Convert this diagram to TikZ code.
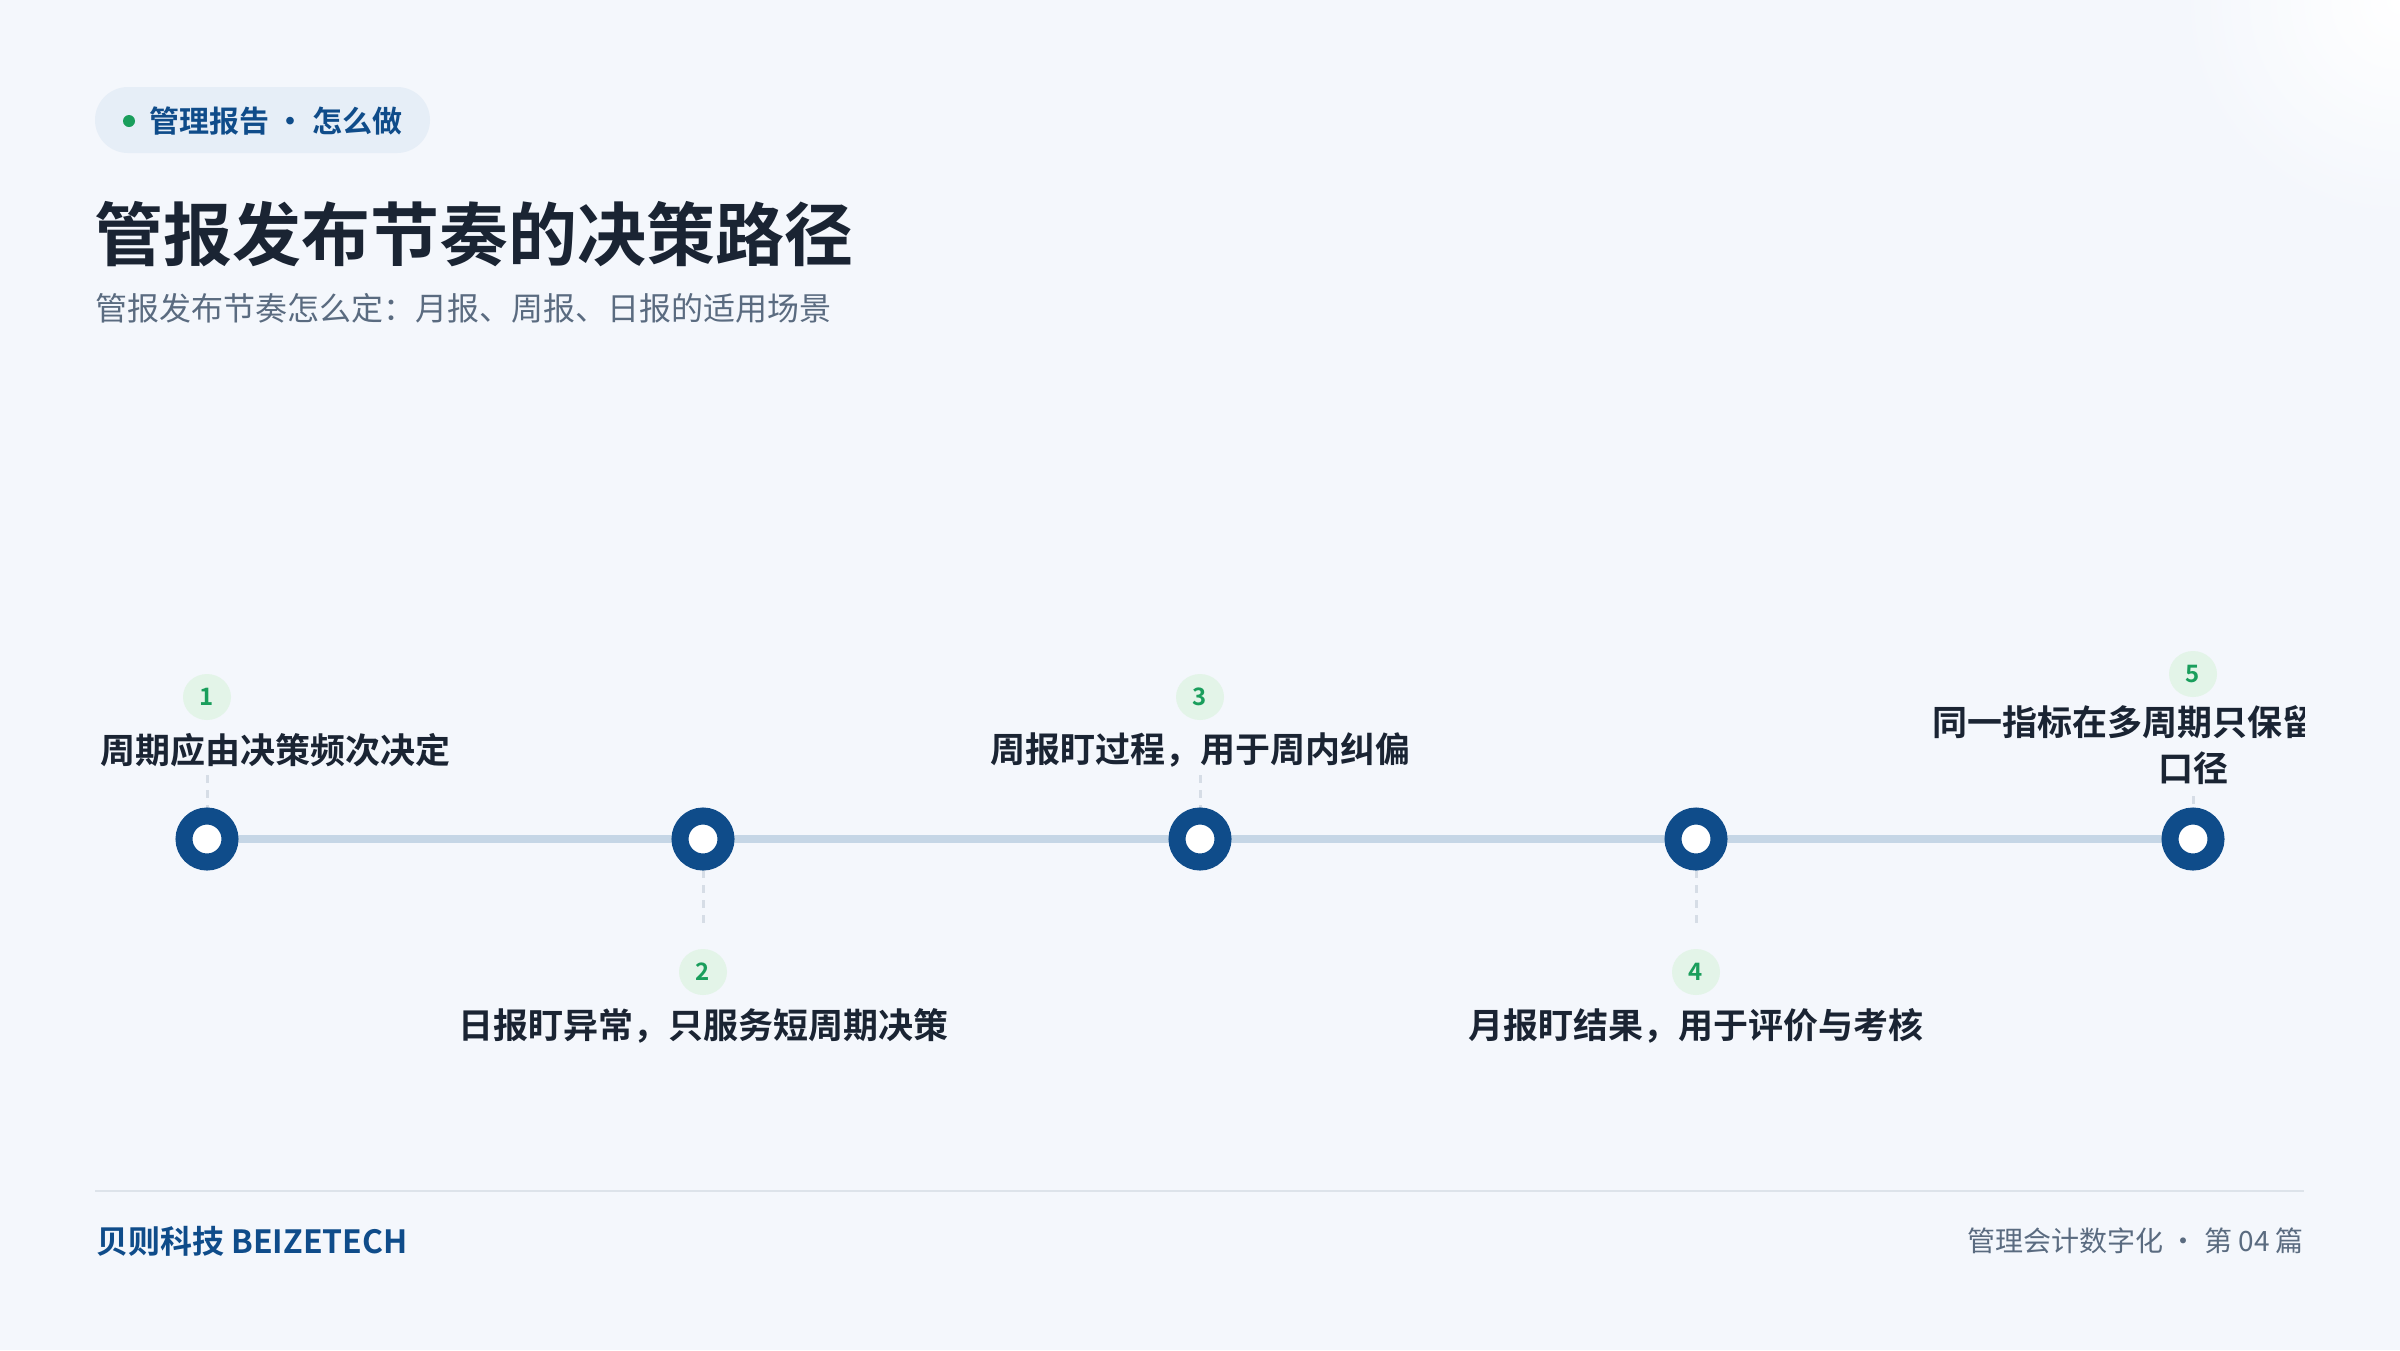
\documentclass[tikz,border=0pt]{standalone}
\usepackage{fontspec}
\setmainfont{Noto Sans CJK SC}[BoldFont={Noto Sans CJK SC Bold}]
\definecolor{bg}{HTML}{F4F7FC}
\definecolor{navy}{HTML}{0F4C8A}
\definecolor{ink}{HTML}{1A2433}
\definecolor{muted}{HTML}{5A6B80}
\definecolor{track}{HTML}{C5D6E6}
\definecolor{green}{HTML}{1A9E5C}
\definecolor{gbadge}{HTML}{E3F4E8}
\definecolor{pill}{HTML}{E6EEF7}
\definecolor{rule}{HTML}{DDE3EA}
\definecolor{dash}{HTML}{D6DDE6}
\tikzset{
 x=1pt,y=-1pt,
 dot/.style={circle,draw=navy,line width=17pt,fill=white,minimum size=46pt,inner sep=0pt},
 badge/.style={ellipse,fill=gbadge,text=green,font=\fontsize{24}{26}\selectfont\bfseries,minimum width=48pt,minimum height=46pt,inner sep=0pt},
 lbl/.style={text=ink,font=\fontsize{35}{46}\selectfont\bfseries,inner sep=0pt},
 conn/.style={draw=dash,line width=3pt,dash pattern=on 8pt off 7pt},
}
\usetikzlibrary{shapes.geometric}
\begin{document}
\begin{tikzpicture}
\useasboundingbox (0,0) rectangle (2400,1350);
\fill[bg] (0,0) rectangle (2400,1350);
\shade[inner color=white,outer color=bg] (2400,0) circle (220pt);
% pill
\fill[pill,rounded corners=33pt] (95,87) rectangle (430,153);
\fill[green] (129,121) circle (6pt);
\node[anchor=west,text=navy,font=\fontsize{30}{32}\selectfont\bfseries,inner sep=0pt] (tag) at (149,121) {管理报告 · 怎么做};
\node[anchor=west,text=ink,font=\fontsize{69}{72}\selectfont\bfseries,inner sep=0pt] (title) at (94,234) {管报发布节奏的决策路径};
\node[anchor=west,text=muted,font=\fontsize{32}{34}\selectfont,inner sep=0pt] (sub) at (95,308) {管报发布节奏怎么定：月报、周报、日报的适用场景};
% track
\coordinate (t1) at (207,839);
\coordinate (t5) at (2193,839);
\draw[track,line width=7.5pt] (t1) -- (t5);
% connectors
\draw[conn] (207,775) -- (207,808);
\draw[conn] (703,870) -- (703,928);
\draw[conn] (1200,775) -- (1200,808);
\draw[conn] (1696,870) -- (1696,928);
\draw[conn] (2193,796) -- (2193,808);
% dots
\node[dot] (d1) at (207,839) {};
\node[dot] (d2) at (703,839) {};
\node[dot] (d3) at (1200,839) {};
\node[dot] (d4) at (1696,839) {};
\node[dot] (d5) at (2193,839) {};
% badges
\node[badge] (b1) at (207,697) {1};
\node[badge] (b2) at (703,972) {2};
\node[badge] (b3) at (1200,697) {3};
\node[badge] (b4) at (1696,972) {4};
\node[badge] (b5) at (2193,674) {5};
% labels
\begin{scope}
\clip (95,0) rectangle (2304,1350);
\node[lbl,anchor=east] (l1) at (451,750) {周期应由决策频次决定};
\node[lbl] (l2) at (703,1026) {日报盯异常，只服务短周期决策};
\node[lbl] (l3) at (1200,750) {周报盯过程，用于周内纠偏};
\node[lbl] (l4) at (1696,1026) {月报盯结果，用于评价与考核};
\node[lbl,anchor=west] (l5) at (1932,722) {同一指标在多周期只保留};
\node[lbl] (l5b) at (2193,768) {口径};
\end{scope}
% footer
\draw[rule,line width=2pt] (95,1191) -- (2304,1191);
\node[anchor=west,text=navy,font=\fontsize{32}{34}\selectfont\bfseries,inner sep=0pt] (brand) at (96,1241) {贝则科技 BEIZETECH};
\node[anchor=east,text=muted,font=\fontsize{28}{30}\selectfont,inner sep=0pt] (series) at (2304,1241) {管理会计数字化 · 第 04 篇};
\end{tikzpicture}
\end{document}
